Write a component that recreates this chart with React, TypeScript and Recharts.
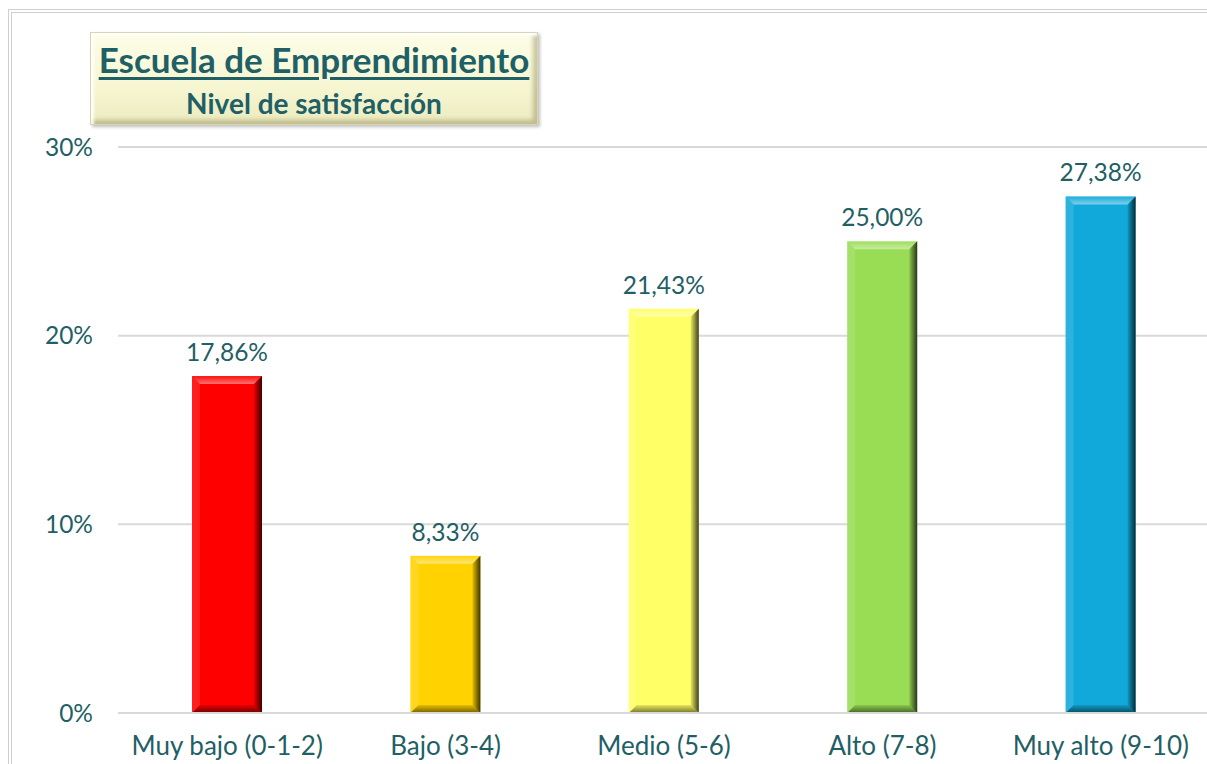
import React from "react";
import { BarChart, Bar, XAxis, YAxis, CartesianGrid, Cell, LabelList } from "recharts";

const categories = [
  "Muy bajo (0-1-2)",
  "Bajo (3-4)",
  "Medio (5-6)",
  "Alto (7-8)",
  "Muy alto (9-10)",
];
const values = [17.86, 8.33, 21.43, 25.0, 27.38];
const barColors = ["#FF0000", "#FFD200", "#FFFF66", "#99DD55", "#11A8DA"];
const yTicks = [0, 10, 20, 30];

const data = categories.map((name, i) => ({ name, value: values[i] }));

const TEXT = "#1F5F66";
const FONT = "Lato, 'Open Sans', sans-serif";

const BevelBar = (props: any) => {
  const { x, y, width: w, height: h, fill, index } = props;
  if (!h || h <= 0) return null;
  const b = 8;
  const id = `bev-${index}`;
  return (
    <g>
      <defs>
        <linearGradient id={`${id}-r`} x1="0" y1="0" x2="1" y2="0">
          <stop offset="0" stopColor="#000" stopOpacity={0.1} />
          <stop offset="1" stopColor="#000" stopOpacity={0.75} />
        </linearGradient>
        <linearGradient id={`${id}-b`} x1="0" y1="0" x2="0" y2="1">
          <stop offset="0" stopColor="#000" stopOpacity={0.1} />
          <stop offset="1" stopColor="#000" stopOpacity={0.55} />
        </linearGradient>
        <linearGradient id={`${id}-t`} x1="0" y1="0" x2="0" y2="1">
          <stop offset="0" stopColor="#fff" stopOpacity={0.05} />
          <stop offset="1" stopColor="#fff" stopOpacity={0.45} />
        </linearGradient>
      </defs>
      <rect x={x} y={y} width={w} height={h} fill={fill} />
      <polygon
        points={`${x},${y} ${x + w},${y} ${x + w - b},${y + b} ${x + b},${y + b}`}
        fill={`url(#${id}-t)`}
      />
      <polygon
        points={`${x},${y} ${x + b},${y + b} ${x + b},${y + h - b} ${x},${y + h}`}
        fill="#fff"
        fillOpacity={0.12}
      />
      <polygon
        points={`${x + w},${y} ${x + w},${y + h} ${x + w - b},${y + h - b} ${x + w - b},${y + b}`}
        fill={`url(#${id}-r)`}
      />
      <polygon
        points={`${x},${y + h} ${x + w},${y + h} ${x + w - b},${y + h - b} ${x + b},${y + h - b}`}
        fill={`url(#${id}-b)`}
      />
    </g>
  );
};

const fmt = (v: any) => `${Number(v).toFixed(2).replace(".", ",")}%`;

export default function App() {
  return (
    <div
      style={{
        position: "absolute",
        left: 0,
        top: 0,
        width: 1207,
        height: 764,
        overflow: "hidden",
        background: "#fff",
        fontFamily: FONT,
      }}
    >
      <div
        style={{
          position: "absolute",
          left: 8,
          top: 9,
          width: 1240,
          height: 800,
          borderLeft: "4px double #cfcfcf",
          borderTop: "4px double #cfcfcf",
        }}
      />
      <BarChart
        width={1210}
        height={764}
        data={data}
        margin={{ top: 147, right: 0, bottom: 0, left: 20 }}
        barSize={70}
        style={{ position: "absolute", left: 0, top: 0 }}
      >
        <CartesianGrid vertical={false} stroke="#d9d9d9" strokeWidth={2} />
        <XAxis
          dataKey="name"
          height={51}
          axisLine={{ stroke: "#d9d9d9", strokeWidth: 2 }}
          tickLine={false}
          tickSize={6}
          tickMargin={18}
          interval={0}
          tick={{ fill: TEXT, fontSize: 26, fontFamily: FONT }}
        />
        <YAxis
          width={98}
          domain={[0, 30]}
          ticks={yTicks}
          axisLine={false}
          tickLine={false}
          tickMargin={19}
          tickFormatter={(v: number) => `${v}%`}
          tick={{ fill: TEXT, fontSize: 24.5, fontFamily: FONT }}
        />
        <Bar dataKey="value" shape={<BevelBar />} isAnimationActive={false}>
          {data.map((d, i) => (
            <Cell key={d.name} fill={barColors[i]} />
          ))}
          <LabelList
            dataKey="value"
            position="top"
            offset={15}
            formatter={fmt}
            style={{ fill: TEXT, fontSize: 24.5, fontFamily: FONT }}
          />
        </Bar>
      </BarChart>
      <div
        style={{
          position: "absolute",
          left: 90,
          top: 32,
          width: 448,
          height: 93,
          boxSizing: "border-box",
          background: "linear-gradient(180deg, #fdfde8 0%, #f6f6d2 60%, #ecebc0 100%)",
          border: "1px solid #d8d6b0",
          boxShadow:
            "inset 3px 3px 3px rgba(255,255,255,0.9), inset -4px -4px 4px rgba(140,130,80,0.45), 2px 2px 3px rgba(0,0,0,0.25)",
          color: TEXT,
          fontFamily: FONT,
          fontWeight: 700,
        }}
      >
        <div
          style={{
            position: "absolute",
            left: 0,
            right: 0,
            top: 5,
            textAlign: "center",
            fontSize: 35,
            lineHeight: "42px",
            whiteSpace: "nowrap",
            textDecoration: "underline",
            textUnderlineOffset: 4,
            textDecorationThickness: 3,
          }}
        >
          Escuela de Emprendimiento
        </div>
        <div
          style={{
            position: "absolute",
            left: 0,
            right: 0,
            top: 53,
            textAlign: "center",
            fontSize: 28,
            lineHeight: "34px",
            whiteSpace: "nowrap",
          }}
        >
          Nivel de satisfacción
        </div>
      </div>
    </div>
  );
}
